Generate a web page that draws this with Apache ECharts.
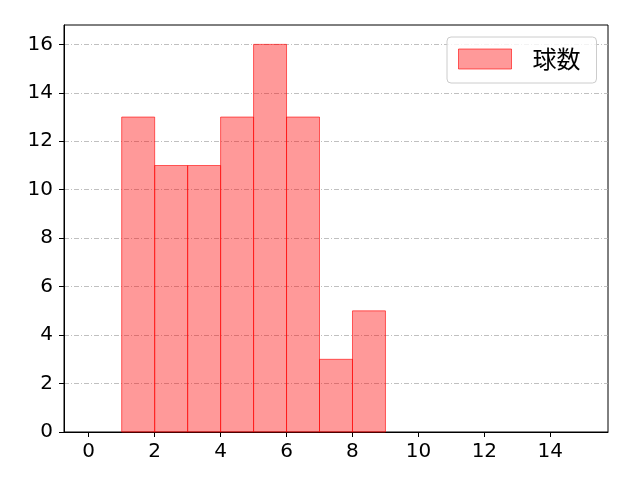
<!DOCTYPE html>
<html>
<head>
<meta charset="utf-8">
<script src="https://cdn.jsdelivr.net/npm/echarts@6/dist/echarts.min.js"></script>
<style>html,body{margin:0;padding:0;background:#fff}#c{width:640px;height:480px}</style>
</head>
<body>
<div id="c"></div>
<script>
const binStarts = [1, 2, 3, 4, 5, 6, 7, 8];
const binWidth = 1;
const counts = [13, 11, 11, 13, 16, 13, 3, 5];
const xTicks = [0, 2, 4, 6, 8, 10, 12, 14];
const yTicks = [0, 2, 4, 6, 8, 10, 12, 14, 16];
const seriesName = '球数';

const data = binStarts.map((s, i) => [s, s + binWidth, counts[i]]);
const font = "'Noto Sans CJK JP', 'Noto Sans', sans-serif";
const tickFont = "'DejaVu Sans', sans-serif";
const chart = echarts.init(document.getElementById('c'), null, {renderer: 'canvas'});
chart.setOption({
  animation: false,
  backgroundColor: '#fff',
  grid: {left: 64, right: 32, top: 25, bottom: 48, show: true, borderColor: '#000', borderWidth: 1, backgroundColor: 'transparent'},
  legend: {
    show: true, left: 447, top: 37,
    data: [{name: seriesName, icon: 'rect', itemStyle: {color: 'rgba(255,0,0,0.4)', borderColor: 'rgba(255,0,0,0.6)', borderWidth: 1}}],
    itemWidth: 53, itemHeight: 20,
    padding: [10, 16, 12, 11],
    borderColor: '#cccccc', borderWidth: 1, borderRadius: 4, backgroundColor: 'rgba(255,255,255,0.8)',
    textStyle: {fontFamily: font, fontSize: 24, lineHeight: 24, color: '#000', padding: [0, 0, 0, 16]}
  },
  xAxis: {
    type: 'value', min: -0.75, max: 15.75,
    axisLine: {show: true, onZero: false, lineStyle: {color: '#000', width: 1}},
    axisTick: {show: true, length: 5, lineStyle: {color: '#000'}, customValues: xTicks},
    axisLabel: {fontFamily: tickFont, fontSize: 20, color: '#000', margin: 10, customValues: xTicks},
    splitLine: {show: false}
  },
  yAxis: {
    type: 'value', min: 0, max: 16.8, interval: 2,
    axisLine: {show: true, onZero: false, lineStyle: {color: '#000', width: 1}},
    axisTick: {show: true, length: 5, lineStyle: {color: '#000'}, customValues: yTicks},
    axisLabel: {fontFamily: tickFont, fontSize: 20, color: '#000', margin: 11, customValues: yTicks},
    splitLine: {show: true, lineStyle: {color: '#b0b0b0', width: 0.8, type: [5, 2, 1, 2]}}
  },
  series: [{
    name: seriesName,
    type: 'custom',
    data: data,
    encode: {x: [0, 1], y: 2},
    renderItem: function (params, api) {
      const p0 = api.coord([api.value(0), api.value(2)]);
      const p1 = api.coord([api.value(1), 0]);
      return {
        type: 'rect',
        shape: {x: p0[0], y: p0[1], width: p1[0] - p0[0], height: p1[1] - p0[1]},
        style: {fill: 'rgba(255,0,0,0.4)', stroke: 'rgba(255,0,0,0.6)', lineWidth: 1}
      };
    }
  }]
});
</script>
</body>
</html>
